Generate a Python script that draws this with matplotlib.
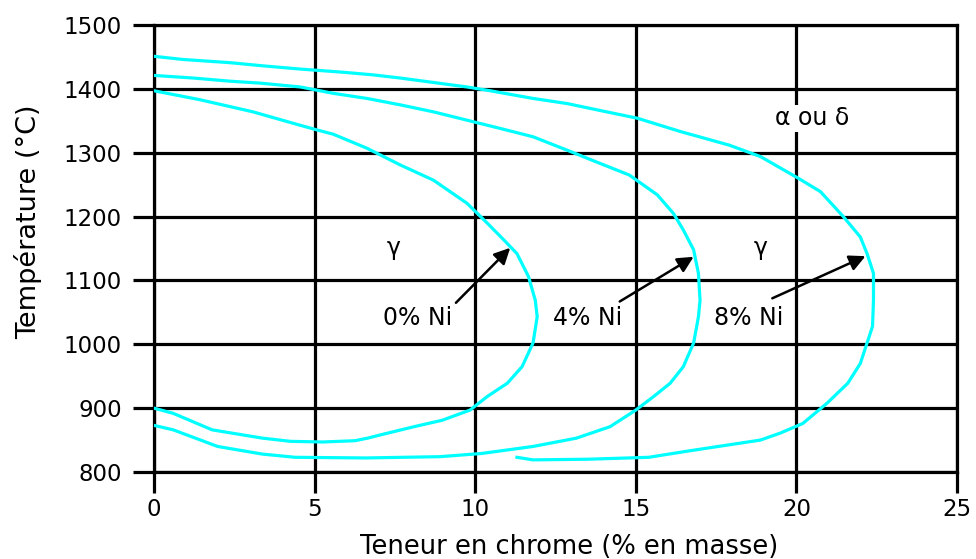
import numpy as np
import matplotlib
matplotlib.use("Agg")
import matplotlib.pyplot as plt

# boucles gamma (Cr en %, T en degC)
cr_0ni = [0, 1.43, 3.08, 4.55, 5.05, 5.58, 6.63, 7.66, 8.7, 9.74, 10.37, 10.9, 11.3, 11.66,
          11.87, 11.93, 11.8, 11.46, 11.0, 10.37, 9.84, 8.97, 8.1, 7.04, 6.65, 6.26, 5.25,
          4.25, 3.38, 1.81, 0.59, 0]
t_0ni = [1397, 1383, 1364, 1343, 1336, 1329, 1307, 1281, 1257, 1221, 1190, 1163, 1142, 1106,
         1069, 1043, 1002, 965, 939, 918, 897, 881, 871, 858, 853, 849, 847,
         848, 853, 866, 892, 900]

cr_4ni = [0, 1.21, 2.37, 3.3, 4.55, 5.58, 6.63, 7.66, 8.7, 9.74, 10.78, 11.8, 12.86,
          13.9, 14.8, 15.08, 15.67, 16.17, 16.48, 16.8, 16.95, 17.0, 16.95, 16.8, 16.48,
          16.07, 15.55, 15.0, 14.2, 13.15, 11.8, 10.2, 8.9, 6.6, 4.4, 3.38, 1.98, 0.6, 0]
t_4ni = [1421, 1417, 1412, 1409, 1403, 1393, 1385, 1375, 1364, 1351, 1338, 1325, 1304,
         1283, 1265, 1255, 1234, 1205, 1179, 1148, 1111, 1069, 1043, 1002, 965,
         939, 918, 897, 871, 853, 840, 829, 824, 822, 823, 828, 840, 866, 873]

cr_8ni = [0, 0.9, 2.37, 3.4, 4.55, 5.89, 6.8, 7.66, 8.7, 9.74, 10.47, 11.8, 12.86, 13.9,
          15.05, 16.4, 17.9, 18.88, 20.06, 20.75, 21.46, 21.99, 22.2, 22.4, 22.4, 22.37,
          22.2, 21.99, 21.6, 20.96, 20.2, 19.5, 18.88, 16.65, 15.4, 13.5, 11.8, 11.3]
t_8ni = [1451, 1446, 1441, 1436, 1431, 1426, 1422, 1417, 1410, 1403, 1397, 1385, 1377, 1366,
         1354, 1333, 1312, 1294, 1260, 1239, 1200, 1168, 1142, 1111, 1069, 1028,
         1002, 970, 939, 908, 876, 861, 850, 833, 823, 820, 819, 823]

x_ticks = [0, 5, 10, 15, 20, 25]
y_ticks = [800, 900, 1000, 1100, 1200, 1300, 1400, 1500]

plt.rcParams['font.family'] = ['DejaVu Sans']

fig = plt.figure(figsize=(9.76, 5.59), dpi=100)
ax = fig.add_axes([154/976, 1 - 472/559, 803/976, 447/559])

cyan = '#00ffff'
for cr, t in [(cr_0ni, t_0ni), (cr_4ni, t_4ni), (cr_8ni, t_8ni)]:
    ax.plot(cr, t, color=cyan, lw=2.3, zorder=3, solid_joinstyle='round')

ax.set_xlim(0, 25)
ax.set_ylim(800, 1500)
ax.set_xticks(x_ticks)
ax.set_yticks(y_ticks)
ax.grid(True, color='black', lw=2.3, zorder=1)
ax.set_axisbelow(True)
for s in ax.spines.values():
    s.set_linewidth(2.3)
    s.set_color('black')
ax.tick_params(axis='both', length=15, width=2.3, labelsize=16.5)
ax.tick_params(axis='y', pad=8)
ax.tick_params(axis='x', pad=4)

ax.set_xlabel('Teneur en chrome (% en masse)', fontsize=18.5)
ax.set_ylabel('Température (°C)', fontsize=19.5)
ax.xaxis.set_label_coords(0.517, -0.138)
ax.yaxis.set_label_coords(-0.139, 0.56)

ax.text(7.45, 1150, 'γ', fontsize=17, ha='center', va='center', zorder=4)
ax.text(18.9, 1150, 'γ', fontsize=17, ha='center', va='center', zorder=4)
ax.text(20.5, 1354, 'α ou δ', fontsize=17, ha='center', va='center', zorder=4,
        bbox=dict(facecolor='white', edgecolor='none', pad=1))

labels = ['0% Ni', '4% Ni', '8% Ni']
label_pos = [(8.2, 1041), (13.5, 1041), (18.5, 1041)]
arrow_tail = [(9.4, 1065), (14.5, 1067), (19.25, 1072)]
arrow_tip = [(11.09, 1151), (16.8, 1137), (22.15, 1138)]
for lab, p, a, b in zip(labels, label_pos, arrow_tail, arrow_tip):
    ax.text(p[0], p[1], lab, fontsize=17, ha='center', va='center', zorder=4)
    ax.annotate('', xy=b, xytext=a,
                arrowprops=dict(arrowstyle='-|>', color='black', lw=1.8,
                                mutation_scale=24, shrinkA=0, shrinkB=0),
                zorder=5)

fig.savefig('out.png', dpi=100)
